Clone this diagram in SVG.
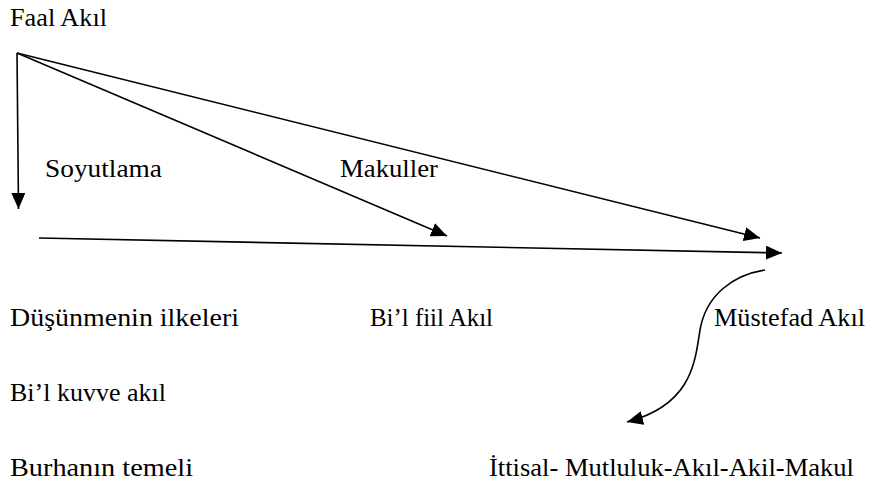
<svg xmlns="http://www.w3.org/2000/svg" width="872" height="485" viewBox="0 0 872 485">
<style>
.t{font-family:"Liberation Serif","DejaVu Serif",serif;font-size:25.5px;fill:#000}
.c{fill:none;stroke:#000;stroke-width:1.6}
</style>
<defs>
<marker id="ah" markerUnits="userSpaceOnUse" markerWidth="16" markerHeight="14" refX="16" refY="7" orient="auto">
<path d="M0,0 L16,7 L0,14 z" fill="#000"/>
</marker>
</defs>
<rect width="872" height="485" fill="#fff"/>
<g id="connectors">
<path class="c" d="M17,53 L18.5,209" marker-end="url(#ah)"/>
<path class="c" d="M17,53 L447,236" marker-end="url(#ah)"/>
<path class="c" d="M17,53 L760,238" marker-end="url(#ah)"/>
<path class="c" d="M39,238 L782,253" marker-end="url(#ah)"/>
<path class="c" d="M765,270 C733,275 706,295 700,330 C695,362 692,405 627,422" marker-end="url(#ah)"/>
</g>
<g id="faal-akil"><text class="t" x="10" y="26" textLength="97" lengthAdjust="spacingAndGlyphs">Faal Akıl</text></g>
<g id="soyutlama"><text class="t" x="45" y="176.5" textLength="117" lengthAdjust="spacingAndGlyphs">Soyutlama</text></g>
<g id="makuller"><text class="t" x="340" y="176.5" textLength="98" lengthAdjust="spacingAndGlyphs">Makuller</text></g>
<g id="dusunmenin-ilkeleri"><text class="t" x="10" y="326" textLength="229" lengthAdjust="spacingAndGlyphs">Düşünmenin ilkeleri</text></g>
<g id="bil-fiil-akil"><text class="t" x="370" y="326" textLength="123" lengthAdjust="spacingAndGlyphs">Bi’l fiil Akıl</text></g>
<g id="mustefad-akil"><text class="t" x="714" y="326" textLength="151" lengthAdjust="spacingAndGlyphs">Müstefad Akıl</text></g>
<g id="bil-kuvve-akil"><text class="t" x="10" y="401" textLength="156" lengthAdjust="spacingAndGlyphs">Bi’l kuvve akıl</text></g>
<g id="burhanin-temeli"><text class="t" x="10" y="475.5" textLength="183" lengthAdjust="spacingAndGlyphs">Burhanın temeli</text></g>
<g id="ittisal"><text class="t" x="489" y="475.5" textLength="365" lengthAdjust="spacingAndGlyphs">İttisal- Mutluluk-Akıl-Akil-Makul</text></g>
</svg>
